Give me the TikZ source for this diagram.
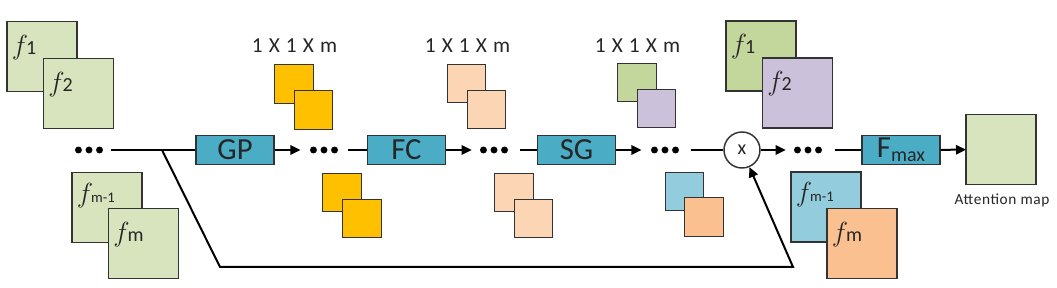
\documentclass[tikz,border=0pt]{standalone}
\usepackage{fontspec}
\setmainfont{Carlito}
\usetikzlibrary{arrows.meta}
\definecolor{edge}{HTML}{333333}
\definecolor{lgreen}{HTML}{D7E4BD}
\definecolor{opteal}{HTML}{4BACC6}
\definecolor{gold}{HTML}{FFC000}
\definecolor{peach}{HTML}{FCD5B5}
\definecolor{olive}{HTML}{C3D69B}
\definecolor{lavender}{HTML}{CCC1DA}
\definecolor{skyblue}{HTML}{93CDDD}
\definecolor{apricot}{HTML}{FAC090}
\definecolor{txt}{HTML}{262626}
\newcommand{\fsym}{{\fontsize{21}{21}\selectfont$f$}\kern-1.5pt}
\newcommand{\sz}[1]{\fontsize{#1}{#1}\selectfont}
\begin{document}
\begin{tikzpicture}[x=0.75pt,y=-0.75pt,
  sq/.style={draw=edge,line width=1.1pt,inner sep=0pt,outer sep=0pt,minimum width=#1*0.75pt,minimum height=#1*0.75pt},
  big/.style={sq=70},
  small/.style={sq=38.5},
  fl/.style={label={[anchor=base west,inner sep=0pt,xshift=3.5pt,yshift=-24.5pt,text=txt]north west:{#1}}},
  flm/.style={label={[anchor=base west,inner sep=0pt,xshift=3.5pt,yshift=-22.5pt,text=txt]north west:{#1}}},
  op/.style={draw=edge,line width=1.1pt,fill=opteal,minimum width=58.5pt,minimum height=21.75pt,inner sep=0pt,text=txt,font=\sz{23}},
  dims/.style={text=txt,font=\sz{16}\addfontfeature{LetterSpace=6},inner sep=0pt},
  dots/.style={minimum width=21pt,minimum height=5.4pt,inner sep=0pt,
    path picture={\foreach \i in {-1,0,1} \fill[black] ([xshift=\i*7.9pt]path picture bounding box.center) circle[radius=2.6pt];}},
  conn/.style={line width=1.5pt,black},
  arr/.style={conn,-{Triangle[length=7.5pt,width=7pt]}},
  mulc/.style={circle,draw=edge,line width=1.1pt,fill=white,minimum size=27pt,inner sep=0pt,text=txt,font=\sz{15}}
]
\useasboundingbox (0,0) rectangle (1057,288);

% left feature maps
\node[big,fill=lgreen,fl={\fsym{\sz{15}1}}] (lf1) at (42,56.5) {};
\node[big,fill=lgreen,fl={\fsym{\sz{15}2}}] (lf2) at (78.5,93.5) {};
\node[big,fill=lgreen,flm={\fsym{\sz{11}m-1}}] (lfm1) at (107,207.5) {};
\node[big,fill=lgreen,fl={\fsym{\sz{15}m}}] (lfm) at (143.5,243.5) {};

% right feature maps
\node[big,fill=olive,fl={\fsym{\sz{15}1}}] (rf1) at (761,56) {};
\node[big,fill=lavender,fl={\fsym{\sz{15}2}}] (rf2) at (797.5,93) {};
\node[big,fill=skyblue,flm={\fsym{\sz{11}m-1}}] (rfm1) at (826,207) {};
\node[big,fill=apricot,fl={\fsym{\sz{15}m}}] (rfm) at (862,243.5) {};

% attention map
\node[big,fill=lgreen] (att) at (1001,149.5) {};
\node[text=txt,font=\sz{11.5}\addfontfeature{LetterSpace=4},inner sep=0pt,anchor=base] (attlab) at (1002,205) {Attention map};

% small squares
\node[small,fill=gold] (g1) at (294,84) {};
\node[small,fill=gold] (g2) at (313.5,110) {};
\node[small,fill=gold] (gb1) at (342,192.5) {};
\node[small,fill=gold] (gb2) at (362,218.5) {};
\node[small,fill=peach] (p1) at (466.5,83.5) {};
\node[small,fill=peach] (p2) at (486.5,109.5) {};
\node[small,fill=peach] (pb1) at (514,192.5) {};
\node[small,fill=peach] (pb2) at (533.5,218.5) {};
\node[small,fill=olive] (s1) at (637,82.5) {};
\node[small,fill=lavender] (s2) at (656.5,108.5) {};
\node[small,fill=skyblue] (sb1) at (684.5,191.5) {};
\node[small,fill=apricot] (sb2) at (704,217) {};

% dimension labels
\node[dims] (t1) at (294.5,46) {1 X 1 X m};
\node[dims] (t2) at (467.5,46) {1 X 1 X m};
\node[dims] (t3) at (637.5,46) {1 X 1 X m};

% operations
\node[op] (gp) at (235,150) {GP};
\node[op] (fc) at (406.5,150) {FC};
\node[op] (sg) at (576.5,150) {SG};
\node[op] (fmax) at (901,150) {F\raisebox{-3pt}{\sz{15}max}};
\node[mulc] (mul) at (742,150) {x};

% dots
\node[dots] (d1) at (89,150) {};
\node[dots] (d2) at (324,150) {};
\node[dots] (d3) at (494,150) {};
\node[dots] (d4) at (665,150) {};
\node[dots] (d5) at (808,150) {};

\coordinate (br) at (162,150);
\coordinate (c1) at (220,267);
\coordinate (c2) at (793,267);

% connectors
\draw[conn,shorten <=6pt] (d1) -- (gp);
\draw[arr,shorten >=7pt] (gp) -- (d2);
\draw[conn,shorten <=7.5pt] (d2) -- (fc);
\draw[arr,shorten >=6pt] (fc) -- (d3);
\draw[conn,shorten <=8.5pt] (d3) -- (sg);
\draw[arr,shorten >=7pt] (sg) -- (d4);
\draw[conn,shorten <=9pt] (d4) -- (mul);
\draw[arr,shorten >=6pt] (mul) -- (d5);
\draw[conn,shorten <=9.5pt] (d5) -- (fmax);
\draw[arr] (fmax) -- (att);
\draw[arr] (br) -- (c1) -- (c2) -- (mul);
\end{tikzpicture}
\end{document}
